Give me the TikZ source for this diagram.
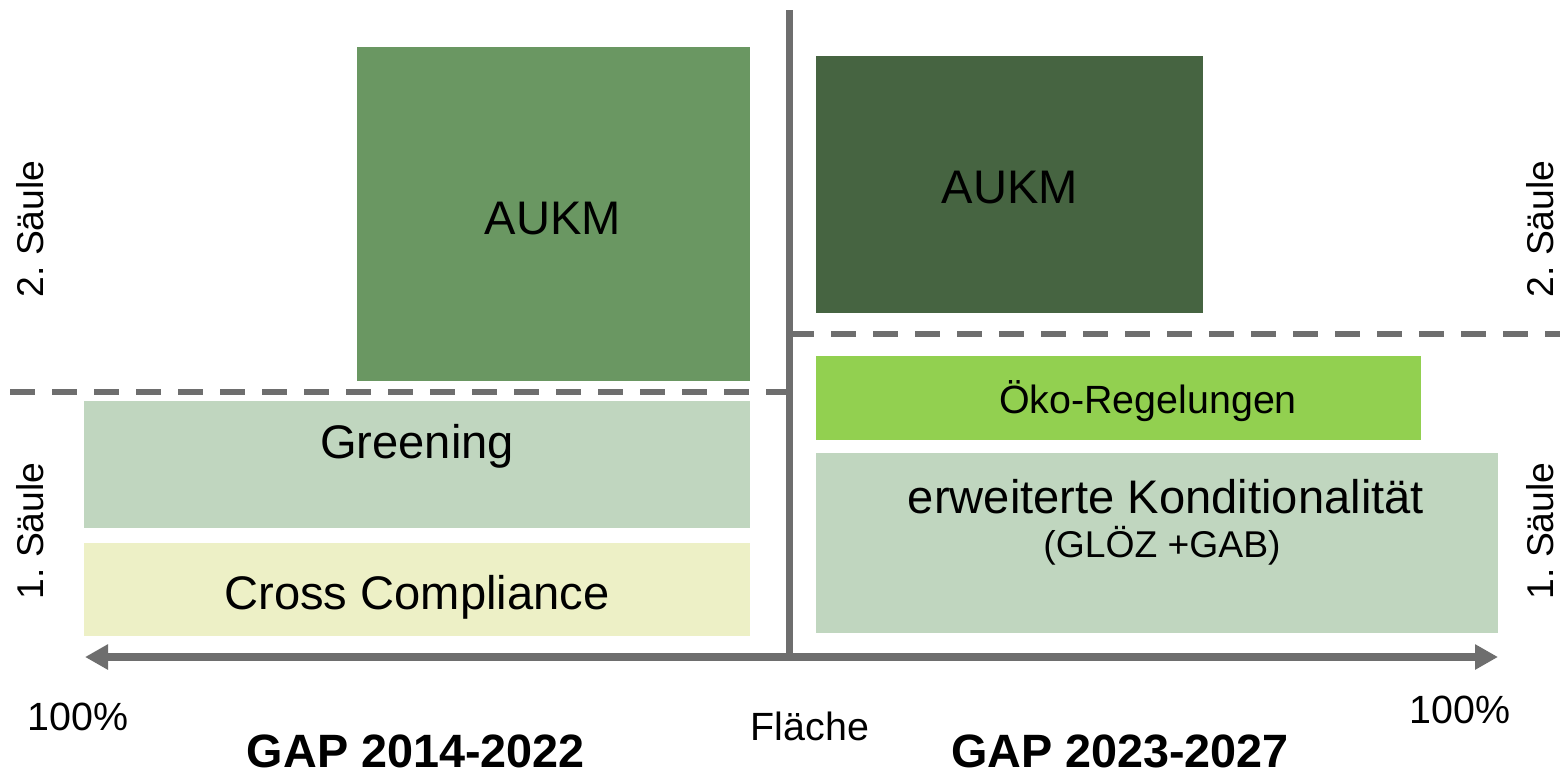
\documentclass[tikz,border=0pt]{standalone}
\usepackage{fontspec}
\setmainfont{Liberation Sans}
\usetikzlibrary{arrows.meta}

\definecolor{aukmold}{RGB}{106,151,98}
\definecolor{aukmnew}{RGB}{70,100,65}
\definecolor{paleleaf}{RGB}{192,214,191}
\definecolor{palelime}{RGB}{237,240,198}
\definecolor{ecogreen}{RGB}{146,208,80}
\definecolor{axisgray}{RGB}{110,110,110}

\tikzset{
  big/.style={font=\fontsize{13.4}{16}\selectfont, anchor=base},
  small/.style={font=\fontsize{11.2}{13}\selectfont, anchor=base},
  title/.style={font=\fontsize{13.3}{16}\selectfont\bfseries, anchor=base},
  pillar/.style={font=\fontsize{10.6}{13}\selectfont, anchor=base, rotate=90},
  divider/.style={axisgray, line width=0.06cm, dash pattern=on 0.25cm off 0.17cm}
}

\begin{document}
\frenchspacing
\begin{tikzpicture}[x=0.01cm, y=-0.01cm]
                \useasboundingbox (0,0) rectangle (1560,775);

                % Blocks of the old period (left)
                \fill[aukmold] (357,47) rectangle (750,381);
                \fill[paleleaf] (84,401) rectangle (750,528);
                \fill[palelime] (84,543) rectangle (750,636);

                % Blocks of the new period (right)
                \fill[aukmnew] (816,56) rectangle (1203,313);
                \fill[ecogreen] (816,356) rectangle (1421,440);
                \fill[paleleaf] (816,453) rectangle (1498,633);

                % Borders between the two pillars
                \draw[divider] (10,392) -- (786,392);
                \draw[divider] (789,334) -- (1560,334);

                % Axes
                \draw[axisgray, line width=0.07cm] (789,10) -- (789,657);
                \draw[axisgray, line width=0.08cm,
                      {Triangle[length=0.23cm,width=0.24cm]}-{Triangle[length=0.23cm,width=0.24cm]}]
                      (85,657) -- (1498,657);

                % Block labels
                \node[big] (aukmL) at (553,234) {AUKM};
                \node[big] (green) at (417,458) {Greening};
                \node[big] (cc) at (417,609) {Cross Compliance};
                \node[big] (aukmR) at (1010,203) {AUKM};
                \node[small] (eco) at (1148,413) {Öko-Regelungen};
                \node[big] (kond) at (1166,513) {erweiterte Konditionalität};
                \node[small, font=\fontsize{10.6}{13}\selectfont] (glz) at (1162,557) {(GLÖZ +GAB)};

                % Pillar labels
                \node[pillar] (s2L) at (43,229) {2. Säule};
                \node[pillar] (s1L) at (43,531) {1. Säule};
                \node[pillar] (s2R) at (1553,229) {2. Säule};
                \node[pillar] (s1R) at (1553,531) {1. Säule};

                % Axis and period labels
                \node[small] (pL) at (78,730) {100\%};
                \node[small] (pR) at (1460,723) {100\%};
                \node[small] (area) at (810,740) {Fläche};
                \node[title] (gapOld) at (416,767) {GAP 2014-2022};
                \node[title] (gapNew) at (1120,767) {GAP 2023-2027};
            \end{tikzpicture}
\end{document}
